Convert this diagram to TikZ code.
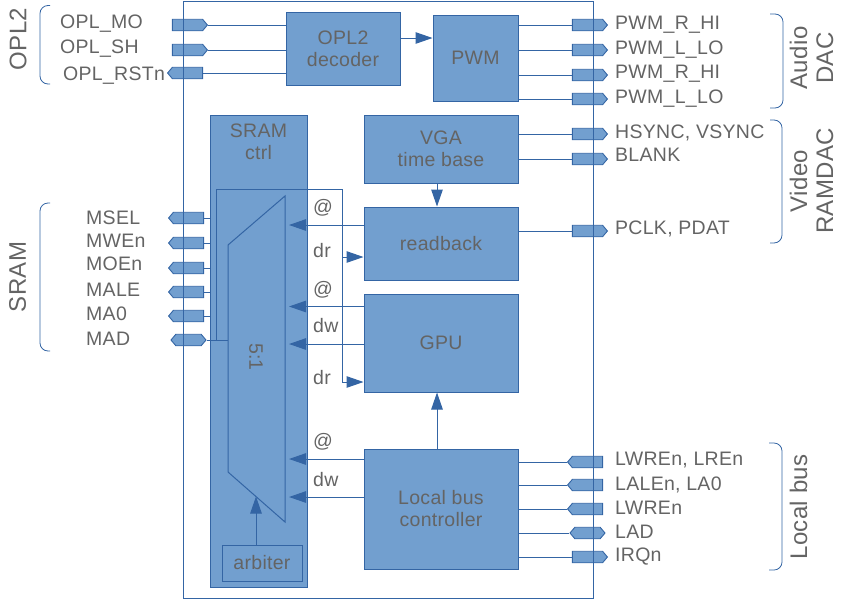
\documentclass[tikz,border=0pt]{standalone}
\usepackage{fontspec}
\setmainfont[LetterSpace=1.5]{Liberation Sans}
\usetikzlibrary{shapes.symbols,arrows.meta}
\definecolor{myblue}{HTML}{3465A4}
\definecolor{myfill}{HTML}{729FCF}
\definecolor{mygray}{HTML}{646464}
\newcommand\lblf{\fontsize{19.5}{22}\selectfont}
\newcommand\bigf{\fontsize{24}{26}\selectfont}
\tikzset{
  blk/.style={draw=myblue, fill=myfill, line width=1pt, inner sep=0pt, align=center, text=mygray, font=\lblf},
  pinbase/.style={signal, draw=myblue, fill=myfill, line width=0.9pt, minimum width=35pt, minimum height=11.5pt, inner sep=0pt, signal pointer angle=100},
  pinI/.style={pinbase, signal to=east},
  pinO/.style={pinbase, signal to=west},
  pinB/.style={pinbase, signal to=east and west},
  txt/.style={text=mygray, font=\lblf, inner sep=0pt},
  lbl/.style={txt, anchor=base west},
  wire/.style={draw=myblue, line width=1pt},
  arr/.style={wire, -{Triangle[length=17pt,width=11.5pt]}},
  brk/.style={draw=myblue, line width=0.8pt, rounded corners=8pt},
  side/.style={text=mygray, font=\bigf, rotate=90, align=center, inner sep=0pt}
}
\begin{document}
\begin{tikzpicture}[x=1pt,y=-1pt]
\useasboundingbox (0,0) rectangle (845,600);
% blocks
\node[blk, minimum width=114pt, minimum height=73pt] (dec) at (343,48.5) {OPL2\\decoder};
\node[blk, minimum width=85pt, minimum height=86pt] (pwm) at (475.5,58) {PWM};
\node[blk, minimum width=154pt, minimum height=68pt] (vga) at (441,149) {VGA\\time base};
\node[blk, minimum width=154pt, minimum height=73pt] (rb) at (441,243.5) {readback};
\node[blk, minimum width=154pt, minimum height=98pt] (gpu) at (441,343) {GPU};
\node[blk, minimum width=154pt, minimum height=120pt] (lbc) at (441,509) {Local bus\\controller};
\node[blk, minimum width=97pt, minimum height=472pt] (sram) at (258.5,351) {};
\node[txt, align=center] (sramt) at (258.5,142) {SRAM\\ctrl};
% mux
\coordinate (mTL) at (228,245);
\coordinate (mTR) at (285,196);
\coordinate (mBR) at (285,522);
\coordinate (mBL) at (228,472);
\draw[wire, fill=myfill] (mTL) -- (mTR) -- (mBR) -- (mBL) -- cycle;
\node[txt, rotate=-90] (ratio) at (256,357) {5:1};
\node[blk, minimum width=80pt, minimum height=36pt] (arb) at (262,563) {arbiter};
\coordinate (arbin) at (256,496.5);
\draw[arr] (arb.north -| arbin) -- (arbin);

% helper coordinates
\coordinate (xv) at (437,0);
\coordinate (xm) at (289,0);
\coordinate (ya) at (0,38);
\coordinate (r1) at (0,225);
\coordinate (g1) at (0,306.5);
\coordinate (g2) at (0,344);
\coordinate (l1) at (0,459);
\coordinate (l2) at (0,497);
\coordinate (jn) at (216,340);
\coordinate (bus) at (342,189);
\coordinate (drrb) at (342,257);
\coordinate (drgpu) at (342,382);

% internal arrows
\draw[arr] (dec.east |- ya) -- (pwm.west |- ya);
\draw[arr] (vga.south -| xv) -- (rb.north -| xv);
\draw[arr] (lbc.north -| xv) -- (gpu.south -| xv);
\draw[arr] (rb.west |- r1) -- (xm |- r1);
\draw[arr] (gpu.west |- g1) -- (xm |- g1);
\draw[arr] (gpu.west |- g2) -- (xm |- g2);
\draw[arr] (lbc.west |- l1) -- (xm |- l1);
\draw[arr] (lbc.west |- l2) -- (xm |- l2);
\draw[wire] (jn) |- (bus) -- (drgpu);
\draw[arr] (drrb) -- (drrb -| rb.west);
\draw[arr] (drgpu) -- (drgpu -| gpu.west);

% bus labels
\node[lbl] (at1) at (313,213) {@};
\node[lbl] (dr1) at (313,257) {dr};
\node[lbl] (at2) at (313,295) {@};
\node[lbl] (dw1) at (313,332) {dw};
\node[lbl] (dr2) at (313,384) {dr};
\node[lbl] (at3) at (313,447) {@};
\node[lbl] (dw2) at (313,486) {dw};

% left pins
\node[pinI] (pMO) at (187.5,25) {};
\node[pinI] (pSH) at (187.5,50) {};
\node[pinO] (pRST) at (187.5,73) {};
\node[pinO] (pMSEL) at (188.5,218) {};
\node[pinO] (pMWE) at (188.5,243) {};
\node[pinO] (pMOE) at (188.5,268) {};
\node[pinO] (pMALE) at (188.5,292) {};
\node[pinO] (pMA0) at (188.5,316) {};
\node[pinB] (pMAD) at (188.5,340) {};
\draw[wire] (pMO.east) -- (pMO.east -| dec.west);
\draw[wire] (pSH.east) -- (pSH.east -| dec.west);
\draw[wire] (pRST.east) -- (pRST.east -| dec.west);
\foreach \p in {pMSEL,pMWE,pMOE,pMALE,pMA0} \draw[wire] (\p.east) -- (\p.east -| sram.west);
\draw[wire] (pMAD.east) -- (pMAD.east -| mBL);

% right pins
\node[pinI] (pR1) at (587.5,25) {};
\node[pinI] (pL1) at (587.5,50) {};
\node[pinI] (pR2) at (587.5,75) {};
\node[pinI] (pL2) at (587.5,99) {};
\node[pinI] (pHS) at (587.5,134) {};
\node[pinI] (pBL) at (587.5,159) {};
\node[pinI] (pPC) at (587.5,231) {};
\node[pinO] (pLWR) at (587.5,462) {};
\node[pinO] (pLAL) at (587.5,485) {};
\node[pinO] (pLW) at (587.5,509) {};
\node[pinB] (pLAD) at (587.5,533) {};
\node[pinI] (pIRQ) at (587.5,557) {};
\foreach \p in {pR1,pL1,pR2,pL2} \draw[wire] (\p.west -| pwm.east) -- (\p.west);
\foreach \p in {pHS,pBL} \draw[wire] (\p.west -| vga.east) -- (\p.west);
\draw[wire] (pPC.west -| rb.east) -- (pPC.west);
\foreach \p in {pLWR,pLAL,pLW,pLAD,pIRQ} \draw[wire] (\p.west -| lbc.east) -- (\p.west);

% chip outline
\draw[wire] (183,1.5) rectangle (593,598);

% pin labels
\node[lbl] (tMO) at (60,28) {OPL\_MO};
\node[lbl] (tSH) at (60,53) {OPL\_SH};
\node[lbl] (tRST) at (63,80) {OPL\_RSTn};
\node[lbl] (tMSEL) at (86,224) {MSEL};
\node[lbl] (tMWE) at (86,247) {MWEn};
\node[lbl] (tMOE) at (86,270) {MOEn};
\node[lbl] (tMALE) at (86,296) {MALE};
\node[lbl] (tMA0) at (86,320) {MA0};
\node[lbl] (tMAD) at (86,345) {MAD};
\node[lbl] (tR1) at (615,29) {PWM\_R\_HI};
\node[lbl] (tL1) at (615,54) {PWM\_L\_LO};
\node[lbl] (tR2) at (615,78) {PWM\_R\_HI};
\node[lbl] (tL2) at (615,103) {PWM\_L\_LO};
\node[lbl] (tHS) at (615,138) {HSYNC, VSYNC};
\node[lbl] (tBL) at (615,161) {BLANK};
\node[lbl] (tPC) at (615,234) {PCLK, PDAT};
\node[lbl] (tLWR) at (615,465) {LWREn, LREn};
\node[lbl] (tLAL) at (615,490) {LALEn, LA0};
\node[lbl] (tLW) at (615,514) {LWREn};
\node[lbl] (tLAD) at (615,538) {LAD};
\node[lbl] (tIRQ) at (615,561) {IRQn};

% brackets
\draw[brk] (50,5.5) -- (40,5.5) -- (40,84) -- (50,84);
\draw[brk] (50,203) -- (40,203) -- (40,351) -- (50,351);
\draw[brk] (770,14) -- (783,14) -- (783,108) -- (770,108);
\draw[brk] (770,120) -- (782,120) -- (782,243) -- (770,243);
\draw[brk] (769,443) -- (782,443) -- (782,570) -- (769,570);

% group labels
\node[side] (gOPL) at (18,39) {OPL2};
\node[side] (gSRAM) at (17.5,277) {SRAM};
\node[side] (gAud) at (811.5,58) {Audio\\DAC};
\node[side] (gVid) at (811.5,181) {Video\\RAMDAC};
\node[side] (gLB) at (798.5,507) {Local bus};
\end{tikzpicture}
\end{document}
